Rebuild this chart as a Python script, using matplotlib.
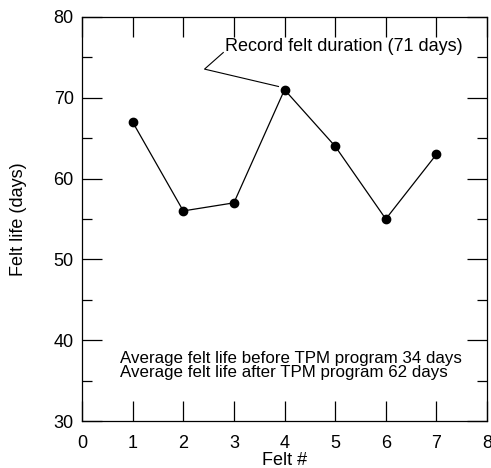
import matplotlib
matplotlib.use("Agg")
import matplotlib.pyplot as plt
from matplotlib.ticker import MultipleLocator

plt.rcParams['font.family'] = ['Liberation Sans', 'DejaVu Sans']

felt = [1, 2, 3, 4, 5, 6, 7]
life = [67, 56, 57, 71, 64, 55, 63]
note_lines = ["Average felt life before TPM program 34 days",
              "Average felt life after TPM program 62 days"]

fig = plt.figure(figsize=(4.91, 4.68), dpi=100)
ax = fig.add_axes([0.167, 0.1004, 0.825, 0.8633])

ax.plot(felt, life, color='black', lw=0.9, marker='o', ms=6, mfc='black', mec='black')

ax.set_xlim(0, 8)
ax.set_ylim(30, 80)
ax.xaxis.set_major_locator(MultipleLocator(1))
ax.yaxis.set_major_locator(MultipleLocator(10))
ax.yaxis.set_minor_locator(MultipleLocator(5))
ax.tick_params(which='major', direction='in', length=14.4, width=0.9, top=True, right=True, labelsize=13, pad=6)
ax.tick_params(axis='x', which='major', pad=10)
ax.tick_params(which='minor', direction='in', length=7.2, width=0.9, right=True, left=True)
ax.tick_params(axis='x', which='minor', bottom=False, top=False)
for s in ax.spines.values():
    s.set_linewidth(0.9)

ax.set_xlabel("Felt #", fontsize=13, labelpad=0)
ax.set_ylabel("Felt life (days)", fontsize=13, labelpad=19)

# leader line for the record point
ax.plot([2.79, 2.42, 3.88], [75.6, 73.55, 71.4], color='black', lw=0.8)
ax.text(2.82, 75.3, "Record felt duration (71 days)", fontsize=13, va='bottom', ha='left')

ax.text(0.75, 36.9, "\n".join(note_lines), fontsize=12.2, va='center', ha='left', linespacing=0.92)

fig.savefig("out.png", dpi=100)
